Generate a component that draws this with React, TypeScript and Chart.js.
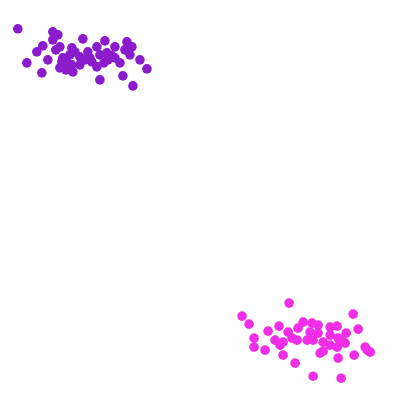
import React, { useEffect, useRef } from "react";
import { Chart, registerables } from "chart.js";

Chart.register(...registerables);

const purpleX = [18, 53, 58, 53, 60, 43, 37, 27, 42, 83, 72, 70, 62, 60, 72, 73, 80, 88, 97, 105, 100, 92, 97, 100, 107, 115, 108, 115, 120, 127, 132, 125, 130, 140, 147, 123, 133, 80, 85, 67, 75, 56, 63, 90, 104, 112, 66, 48];
const purpleY = [29, 32, 35, 40, 47, 46, 52, 63, 73, 39, 48, 55, 62, 68, 65, 72, 57, 52, 47, 41, 55, 62, 67, 80, 53, 47, 60, 58, 63, 42, 47, 50, 55, 60, 69, 76, 86, 65, 60, 62, 52, 50, 58, 58, 63, 56, 70, 60];

const pinkX = [289, 242, 249, 254, 254, 265, 268, 279, 275, 283, 295, 313, 341, 303, 312, 318, 310, 318, 288, 292, 283, 297, 307, 313, 330, 337, 330, 323, 330, 338, 346, 345, 353, 358, 337, 323, 320, 338, 354, 365, 370, 367, 280, 298, 341];
const pinkY = [303, 316, 324, 338, 347, 350, 331, 326, 340, 355, 363, 376, 378, 322, 323, 325, 332, 333, 332, 338, 342, 340, 340, 340, 327, 326, 335, 342, 345, 338, 333, 343, 314, 329, 347, 351, 353, 358, 355, 347, 352, 350, 345, 328, 340];

const toPoints = (xs: number[], ys: number[]) => xs.map((x, i) => ({ x, y: ys[i] }));

export default function App() {
  const ref = useRef<HTMLCanvasElement>(null);
  useEffect(() => {
    if (!ref.current) return;
    const chart = new Chart(ref.current, {
      type: "scatter",
      data: {
        datasets: [
          {
            label: "A",
            data: toPoints(purpleX, purpleY),
            backgroundColor: "#8a1ccc",
            borderWidth: 0,
            pointRadius: 4.8,
          },
          {
            label: "B",
            data: toPoints(pinkX, pinkY),
            backgroundColor: "#f02ee6",
            borderWidth: 0,
            pointRadius: 4.8,
          },
        ],
      },
      options: {
        responsive: false,
        animation: false,
        layout: { padding: 0 },
        plugins: { legend: { display: false }, tooltip: { enabled: false } },
        scales: {
          x: { type: "linear", min: 5, max: 395, display: false },
          y: { type: "linear", min: 5, max: 395, reverse: true, display: false },
        },
      },
    });
    return () => chart.destroy();
  }, []);
  return (
    <div style={{ position: "fixed", left: 0, top: 0, width: 400, height: 400, background: "#fff" }}>
      <canvas ref={ref} width={400} height={400} />
    </div>
  );
}
